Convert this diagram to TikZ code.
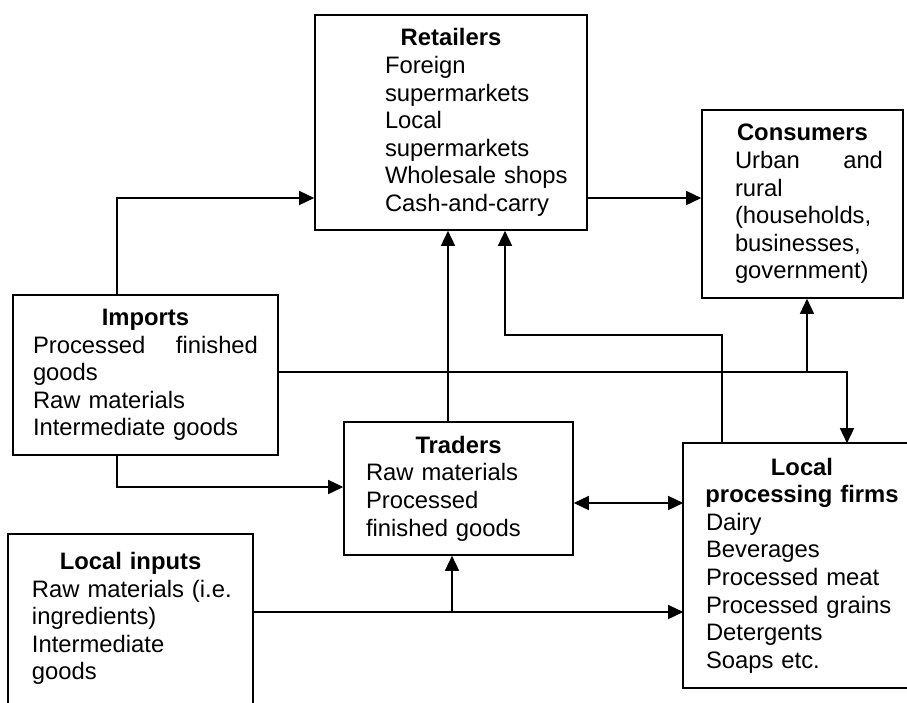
\documentclass[tikz,border=0pt]{standalone}
\usepackage{fontspec}
\setmainfont{Liberation Sans}
\usetikzlibrary{arrows.meta}

\tikzset{
  stage/.style={draw, line width=1.6pt, inner sep=0pt, align=left,
    font={\fontsize{23.8pt}{27.6pt}\selectfont}},
  flow/.style={line width=1.5pt, -{Triangle[length=15pt,width=14pt]}},
  twoway/.style={line width=1.5pt, {Triangle[length=15pt,width=14pt]}-{Triangle[length=15pt,width=14pt]}},
}
\newcommand{\head}[1]{\parindent 0pt{\centering\textbf{#1}\par}}

\begin{document}
\begin{tikzpicture}[x=1pt,y=-1pt]

	\useasboundingbox (0,0) rectangle (907,702);

	\node[stage, text width=272pt, minimum height=215pt] (retailers) at (451,122.5)
		{\head{Retailers}\leftskip 70pt\relax Foreign\\supermarkets\\Local\\supermarkets\\Wholesale shops\\Cash-and-carry\par};
	\node[stage, text width=201pt, minimum height=188pt] (consumers) at (802.5,204)
		{\head{Consumers}\leftskip 33pt\rightskip 20pt plus 1fil\relax Urban\hfill and\\rural\\(households,\\businesses,\\government)\par};
	\node[stage, text width=265pt, minimum height=160pt] (imports) at (145.5,375)
		{\head{Imports}\leftskip 20pt\rightskip 20pt plus 1fil\relax Processed\hfill finished\\goods\\Raw materials\\Intermediate goods\par};
	\node[stage, text width=229pt, minimum height=133pt] (traders) at (458.5,488.5)
		{\head{Traders}\leftskip 22pt\relax Raw materials\\Processed\\finished goods\par};
	\node[stage, draw=none, text width=243pt, minimum height=167pt] (inputs) at (130.5,618.5)
		{\head{Local inputs}\leftskip 23pt\relax Raw materials (i.e.\\ingredients)\\Intermediate\\goods\par};
	\node[stage, draw=none, text width=236pt, minimum height=243pt] (firms) at (802,565.5)
		{\head{Local\\processing firms}\leftskip 22pt\relax Dairy\\Beverages\\Processed meat\\Processed grains\\Detergents\\Soaps etc.\par};

	% both boxes run off the edge of the page
	\draw[line width=1.6pt] (inputs.south west) -- (inputs.north west) -- (inputs.north east) -- (inputs.south east);
	\draw[line width=1.6pt] (firms.north west -| 907,0) -- (firms.north west) -- (firms.south west) -- (firms.south west -| 907,0);

	\coordinate (split1) at (807,372);
	\coordinate (split2) at (452,612);

	\draw[flow] (imports.north -| 117,0) |- (retailers.west |- 0,198);
	\draw[flow] (retailers.east |- 0,198) -- (consumers.west |- 0,198);
	\draw[flow] (traders.north -| 448,0) -- (retailers.south -| 448,0);
	\draw[flow] (firms.north -| 722,0) -- (722,335) -| (retailers.south -| 505,0);
	\draw[flow] (imports.east |- 0,372) -| (firms.north -| 847,0);
	\draw[flow] (split1) -- (consumers.south -| split1);
	\draw[flow] (imports.south -| 117,0) |- (traders.west |- 0,487);
	\draw[twoway] (traders.east |- 0,503) -- (firms.west |- 0,503);
	\draw[flow] (inputs.east |- 0,612) -- (firms.west |- 0,612);
	\draw[flow] (split2) -- (traders.south -| split2);

\end{tikzpicture}
\end{document}
